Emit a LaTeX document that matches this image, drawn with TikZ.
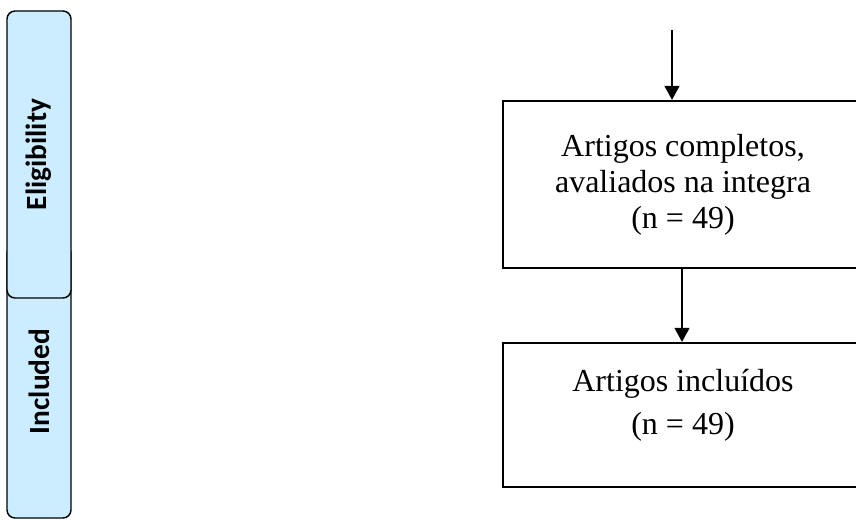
\documentclass[tikz,border=0pt]{standalone}
\usepackage{fontspec}
\setmainfont{Liberation Serif}
\newfontfamily\barfont{Carlito}
\usetikzlibrary{arrows.meta}
\definecolor{barblue}{RGB}{204,236,255}
\tikzset{
    stage/.style={draw,fill=barblue,line width=1.1pt,rounded corners=6pt,minimum width=48pt,inner sep=0pt},
    stagetext/.style={rotate=90,font=\barfont\bfseries\fontsize{22}{26}\selectfont},
    box/.style={draw,line width=1.6pt,minimum width=270pt,inner sep=0pt},
    arr/.style={line width=1.6pt,-{Triangle[length=10.5pt,width=11pt]}}
}
\begin{document}
\begin{tikzpicture}[x=0.75pt,y=-0.75pt]
    \clip (0,0) rectangle (856,520);
    %% side bars
    \node[stage,minimum height=204.75pt] (incl) at (39,381.5) {};
    \node[stagetext] (incltxt) at (incl) {Included};
    \node[stage,minimum height=215.25pt] (elig) at (39,154.5) {};
    \node[stagetext] (eligtxt) at (elig) {Eligibility};
    %% boxes
    \node[box,minimum height=125.25pt,align=center,font=\fontsize{24}{27}\selectfont] (full) at (683,184.5)
        {Artigos completos,\\avaliados na integra\\(n = 49)};
    \node[box,minimum height=108pt] (inc) at (683,415) {};
    \node[align=center,font=\fontsize{24}{32.5}\selectfont] (inctxt) at (683,405) {Artigos incluídos\\(n = 49)};
    %% arrows
    \coordinate (top) at (672,30);
    \draw[arr] (top) -- (top |- full.north);
    \draw[arr] (682,0 |- full.south) -- (682,0 |- inc.north);
\end{tikzpicture}
\end{document}
